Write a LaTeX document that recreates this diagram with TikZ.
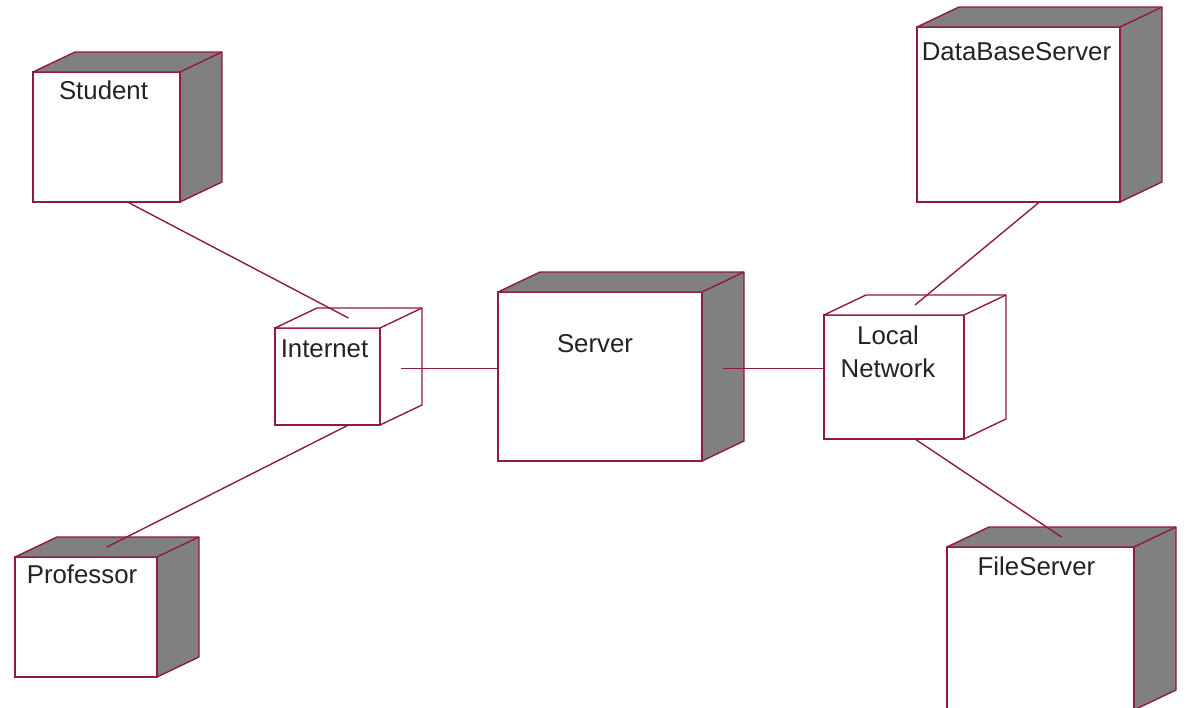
\documentclass[tikz,border=0pt]{standalone}
\usepackage{fontspec}
\setmainfont{Liberation Sans}
\usepackage{tikz}
\usetikzlibrary{calc}
\definecolor{rosered}{RGB}{145,25,70}
\definecolor{sidegray}{RGB}{128,128,128}
\definecolor{inkgray}{RGB}{35,35,35}

\begin{document}
\begin{tikzpicture}[x=1pt,y=-1pt]
    \tikzstyle{device}=[shape=rectangle,draw=rosered,fill=white,line width=1.4pt,inner sep=0pt,outer sep=0pt]
    \tikzstyle{tag}=[anchor=base,inner sep=0pt,text=inkgray,font=\fontsize{25.8}{33}\selectfont,align=center]
    \tikzstyle{link}=[draw=rosered,line width=1.4pt]

    \useasboundingbox (0,0) rectangle (1186,707);
    \clip (0,0) rectangle (1186,707);

    \node[device,minimum width=147pt,minimum height=130pt] (stu) at (106.5,137) {};
    \node[device,minimum width=105pt,minimum height=97pt] (inet) at (327.5,376.5) {};
    \node[device,minimum width=204pt,minimum height=169pt] (srv) at (600,376.5) {};
    \node[device,minimum width=140pt,minimum height=124pt] (lan) at (894,377) {};
    \node[device,minimum width=203pt,minimum height=175pt] (db) at (1018.5,114.5) {};
    \node[device,minimum width=142pt,minimum height=120pt] (prof) at (86,617) {};
    \node[device,minimum width=187pt,minimum height=163pt] (fs) at (1040.5,628.5) {};

    % top and right faces
    \foreach \n/\f in {stu/sidegray,inet/white,srv/sidegray,lan/white,db/sidegray,prof/sidegray,fs/sidegray}{
      \filldraw[draw=rosered,fill=\f,line width=1.4pt,line join=round]
        (\n.north west) -- ++(42,-20) -- ([shift={(42,-20)}]\n.north east)
        -- ([shift={(42,-20)}]\n.south east) -- (\n.south east) -- (\n.north east) -- cycle;
      \draw[rosered,line width=1.4pt] (\n.north east) -- ++(42,-20);
      \draw[rosered,line width=2.8pt] (\n.north east) -- (\n.south east);
      \coordinate (\n-top) at ($(\n.north)+(21,-10)$);
      \coordinate (\n-side) at ($(\n.east)+(21,-8)$);
      \coordinate (\n-bot) at ($(\n.south)+(21,0)$);
    }

    \node[tag] (stu-l) at ($(stu.north)+(-3,27)$) {Student};
    \node[tag] (inet-l) at ($(inet.north)+(-3,29)$) {Internet};
    \node[tag] (srv-l) at ($(srv.north)+(-5,60)$) {Server};
    \node[tag] (lan-l) at ($(lan.north)+(-6,62)$) {Local\\Network};
    \node[tag] (db-l) at ($(db.north)+(-2,33)$) {DataBaseServer};
    \node[tag] (prof-l) at ($(prof.north)+(-4,26)$) {Professor};
    \node[tag] (fs-l) at ($(fs.north)+(-4,28)$) {FileServer};

    \path[link]
    (stu-bot) edge (inet-top)
    (inet-bot) edge (prof-top)
    (inet-side) edge (inet-side -| srv.west)
    (srv-side) edge (srv-side -| lan.west)
    (lan-top) edge (db-bot)
    (lan-bot) edge (fs-top)
    ;

\end{tikzpicture}
\end{document}
